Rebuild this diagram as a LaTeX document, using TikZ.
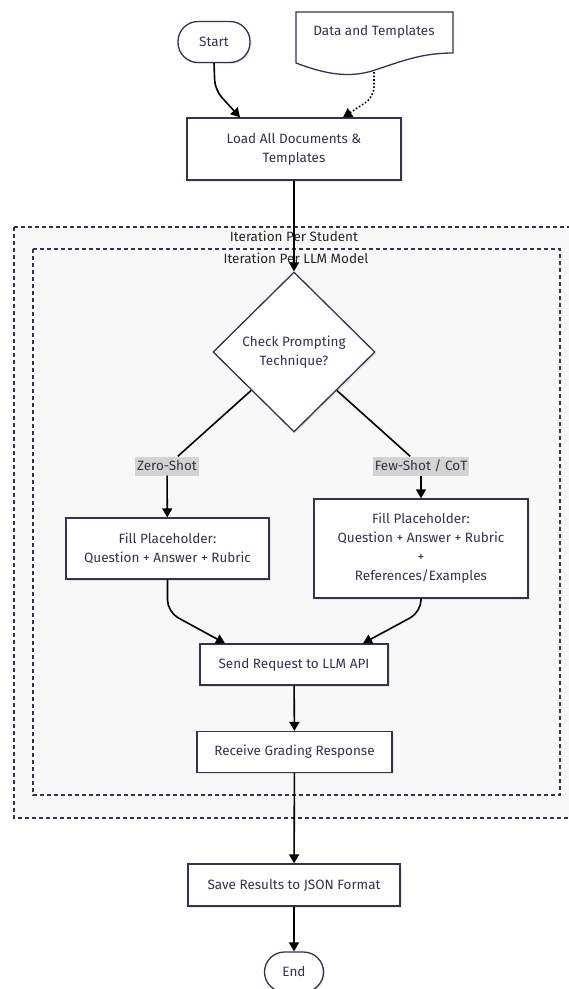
\documentclass[tikz,border=0pt]{standalone}
\usepackage{fontspec}
\setmainfont{Fira Sans}
\usetikzlibrary{arrows.meta,shapes.geometric,shadows}
\definecolor{inkc}{HTML}{33334A}
\definecolor{clusterfill}{HTML}{F8F8F8}
\definecolor{lblfill}{HTML}{D3D3D3}
\tikzset{
  boxfont/.style={font=\fontsize{13.5}{19}\selectfont, text=inkc},
  box/.style={boxfont, draw=inkc, line width=1.3pt, fill=white, align=center, inner sep=0pt,
    drop shadow={shadow xshift=1.5pt, shadow yshift=-1.5pt, fill=black, opacity=0.08}},
  term/.style={box, rounded corners=20pt},
  decision/.style={box, diamond, aspect=1},
  edgelbl/.style={boxfont, fill=lblfill, inner sep=2pt, minimum height=19pt},
  cluster/.style={draw=inkc, fill=clusterfill, line width=1.1pt, dash pattern=on 4pt off 3pt},
  clusterlbl/.style={font=\fontsize{13.5}{15}\selectfont, text=black!85},
  link/.style={line width=1.6pt, black},
  flow/.style={link, -{Triangle[length=9pt,width=10pt]}}
}
\begin{document}
\begin{tikzpicture}[x=1pt, y=-1pt]
  \useasboundingbox (0,0) rectangle (569,989);
  % subgraphs
  \draw[cluster] (14,227) rectangle (580,818);
  \draw[cluster] (33,249) rectangle (560,795);
  \node[clusterlbl] (studentlbl) at (294,236) {Iteration Per Student};
  \node[clusterlbl] (modellbl) at (296,258) {Iteration Per LLM Model};

  % top
  \node[term, minimum width=72pt, minimum height=41pt] (start) at (214,42) {Start};
  \node[boxfont] (data) at (374,32) {Data and Templates};
  \draw[draw=inkc, line width=1.3pt, fill=white]
    (296,12) -- (453,12) -- (453,53)
    .. controls (420,53) and (400,62) .. (372,71)
    .. controls (345,79) and (320,72) .. (296,63) -- cycle;
  \node[boxfont] at (data) {Data and Templates};
  \coordinate (databot) at (374,72);
  \node[box, minimum width=214pt, minimum height=62pt] (load) at (294,149)
    {Load All Documents \&\\Templates};

  % prompting
  \node[decision, minimum width=162pt, minimum height=160pt] (dia) at (294,352)
    {Check Prompting\\Technique?};
  \node[edgelbl] (zero) at (167,466) {Zero-Shot};
  \node[edgelbl] (few) at (421,466) {Few-Shot / CoT};
  \node[box, minimum width=203pt, minimum height=61pt] (fillzero) at (167.5,548.5)
    {Fill Placeholder:\\Question + Answer + Rubric};
  \node[box, minimum width=214pt, minimum height=99pt] (fillfew) at (421,548.5)
    {Fill Placeholder:\\Question + Answer + Rubric\\+\\References/Examples};
  \node[box, minimum width=188pt, minimum height=41pt] (send) at (294,664.5)
    {Send Request to LLM API};
  \node[box, minimum width=195pt, minimum height=41pt] (receive) at (294.5,752)
    {Receive Grading Response};

  % bottom
  \node[box, minimum width=212pt, minimum height=42pt] (save) at (294,885)
    {Save Results to JSON Format};
  \node[term, minimum width=59pt, minimum height=40pt] (end) at (294,972) {End};

  % connectors
  \draw[flow, rounded corners=10pt] (start.south) -- (215,90) -- ([xshift=-54pt]load.north);
  \draw[flow, dotted, rounded corners=10pt] (databot) -- (374,97) -- ([xshift=49pt]load.north);
  \draw[flow] (load) -- (dia);
  \draw[link] (dia) -- (zero);
  \draw[link] (dia) -- (few);
  \draw[flow] (zero) -- (fillzero);
  \draw[flow] (few) -- (fillfew);
  \draw[flow, rounded corners=12pt] (fillzero.south) -- (167.5,612) -- ([xshift=-69pt]send.north);
  \draw[flow, rounded corners=12pt] (fillfew.south) -- (421,612) -- ([xshift=69pt]send.north);
  \draw[flow] (send) -- (receive);
  \draw[flow] (receive) -- (save);
  \draw[flow] (save) -- (end);
\end{tikzpicture}
\end{document}
